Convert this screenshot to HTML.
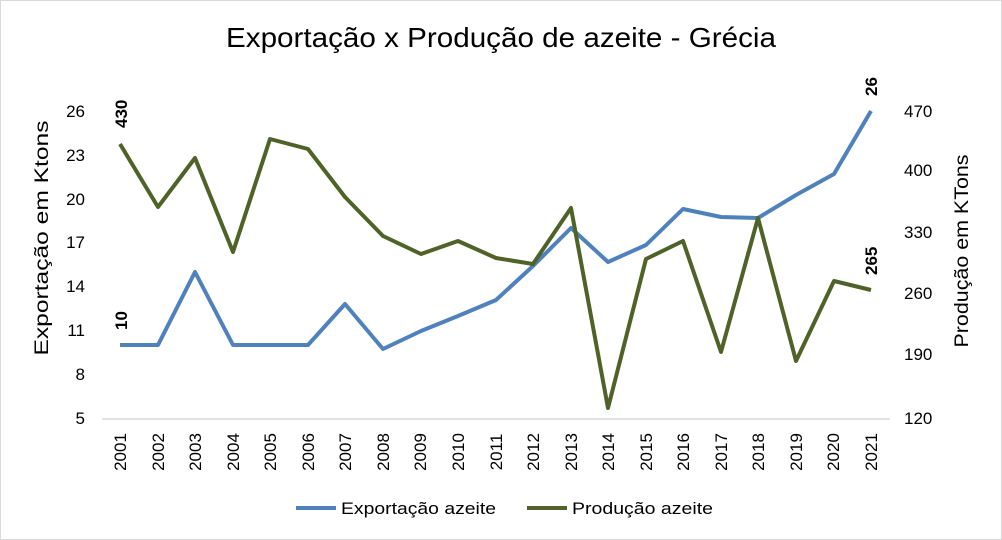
<!DOCTYPE html>
<html><head><style>body{margin:0;background:#fff}svg{display:block}</style></head><body>
<svg width="1002" height="540" xmlns="http://www.w3.org/2000/svg" font-family="Liberation Sans, sans-serif">
<rect x="0.5" y="0.5" width="1001" height="539" fill="#fff" stroke="#d9d9d9"/>
<text x="501" y="47" text-anchor="middle" font-size="28" textLength="550" lengthAdjust="spacingAndGlyphs" fill="#000">Exportação x Produção de azeite - Grécia</text>
<line x1="102" y1="419" x2="890" y2="419" stroke="#d9d9d9" stroke-width="1.5"/>
<g font-size="17" fill="#000" text-anchor="end">
<text x="85" y="117">26</text><text x="85" y="161">23</text><text x="85" y="205">20</text><text x="85" y="248">17</text><text x="85" y="292">14</text><text x="85" y="336">11</text><text x="85" y="380">8</text><text x="85" y="424">5</text>
</g>
<g font-size="17" fill="#000" text-anchor="start">
<text x="904" y="117">470</text><text x="904" y="176">400</text><text x="904" y="238">330</text><text x="904" y="299">260</text><text x="904" y="360">190</text><text x="904" y="424">120</text>
</g>
<text transform="translate(48,238) rotate(-90)" text-anchor="middle" font-size="19" textLength="235" lengthAdjust="spacingAndGlyphs">Exportação em Ktons</text>
<text transform="translate(968,251) rotate(-90)" text-anchor="middle" font-size="19" textLength="193" lengthAdjust="spacingAndGlyphs">Produção em KTons</text>
<g font-size="17" text-anchor="middle">
<text transform="translate(126,452) rotate(-90)">2001</text>
<text transform="translate(164,452) rotate(-90)">2002</text>
<text transform="translate(201,452) rotate(-90)">2003</text>
<text transform="translate(239,452) rotate(-90)">2004</text>
<text transform="translate(276,452) rotate(-90)">2005</text>
<text transform="translate(314,452) rotate(-90)">2006</text>
<text transform="translate(351,452) rotate(-90)">2007</text>
<text transform="translate(389,452) rotate(-90)">2008</text>
<text transform="translate(426,452) rotate(-90)">2009</text>
<text transform="translate(464,452) rotate(-90)">2010</text>
<text transform="translate(502,452) rotate(-90)">2011</text>
<text transform="translate(539,452) rotate(-90)">2012</text>
<text transform="translate(577,452) rotate(-90)">2013</text>
<text transform="translate(614,452) rotate(-90)">2014</text>
<text transform="translate(652,452) rotate(-90)">2015</text>
<text transform="translate(689,452) rotate(-90)">2016</text>
<text transform="translate(727,452) rotate(-90)">2017</text>
<text transform="translate(764,452) rotate(-90)">2018</text>
<text transform="translate(802,452) rotate(-90)">2019</text>
<text transform="translate(839,452) rotate(-90)">2020</text>
<text transform="translate(877,452) rotate(-90)">2021</text>
</g>
<polyline fill="none" stroke="#4f81bd" stroke-width="4" stroke-linejoin="round" points="120,345 158,345 195,272 233,345 270,345 308,345 345,304 383,349 421,331 458,316 496,300 533,266 571,228 608,262 646,245 683,209 721,217 758,218 796,195 834,174 871,111"/>
<polyline fill="none" stroke="#4f6228" stroke-width="4" stroke-linejoin="round" points="120,144 158,207 195,158 233,252 270,139 308,149 345,197 383,236 421,254 458,241 496,258 533,264 571,208 608,408 646,259 683,241 721,352 758,218 796,361 834,281 871,290"/>
<g font-size="17" font-weight="bold">
<text transform="translate(127,128) rotate(-90)">430</text>
<text transform="translate(127,330) rotate(-90)">10</text>
<text transform="translate(877,96) rotate(-90)">26</text>
<text transform="translate(877,275) rotate(-90)">265</text>
</g>
<line x1="296" y1="508" x2="336" y2="508" stroke="#4f81bd" stroke-width="4"/>
<text x="341" y="514" font-size="17" textLength="155" lengthAdjust="spacingAndGlyphs">Exportação azeite</text>
<line x1="527" y1="508" x2="567" y2="508" stroke="#4f6228" stroke-width="4"/>
<text x="572" y="514" font-size="17" textLength="141" lengthAdjust="spacingAndGlyphs">Produção azeite</text>
</svg>
</body></html>
